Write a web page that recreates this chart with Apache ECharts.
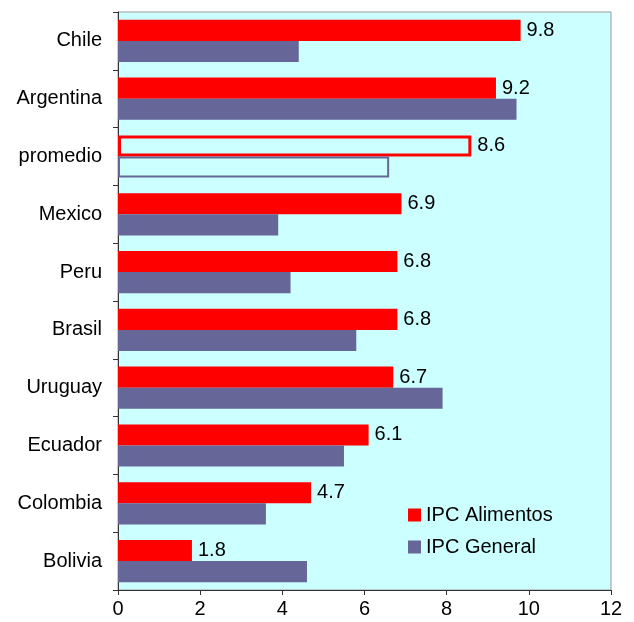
<!DOCTYPE html>
<html>
<head>
<meta charset="utf-8">
<script src="https://cdn.jsdelivr.net/npm/echarts@6/dist/echarts.min.js"></script>
<style>
html, body { margin: 0; padding: 0; background: #fff; }
#chart { width: 634px; height: 622px; }
</style>
</head>
<body>
<div id="chart"></div>
<script>
// paises, de arriba hacia abajo
var paises = ['Chile', 'Argentina', 'promedio', 'Mexico', 'Peru', 'Brasil', 'Uruguay', 'Ecuador', 'Colombia', 'Bolivia'];
var ipcAlimentos = [9.8, 9.2, 8.6, 6.9, 6.8, 6.8, 6.7, 6.1, 4.7, 1.8];
var ipcGeneral = [4.4, 9.7, 6.6, 3.9, 4.2, 5.8, 7.9, 5.5, 3.6, 4.6];
var ejeX = { min: 0, max: 12, interval: 2 };

var rojo = '#FF0000';
var azul = '#666699';

// la barra "promedio" va hueca, solo borde
function armar(valores, color, borde) {
    return valores.map(function (v, i) {
        if (paises[i] === 'promedio') {
            return {
                value: v,
                itemStyle: { color: 'rgba(0,0,0,0)', borderColor: color, borderWidth: borde }
            };
        }
        return v;
    });
}

var chart = echarts.init(document.getElementById('chart'));

var option = {
    animation: false,
    textStyle: { fontFamily: 'Liberation Sans, Arial, sans-serif' },
    grid: {
        left: 118,
        right: 23,
        top: 12,
        bottom: 32,
        show: true,
        backgroundColor: '#CCFFFF',
        borderColor: '#999999',
        borderWidth: 1
    },
    legend: {
        orient: 'vertical',
        left: 403,
        top: 500,
        itemWidth: 13,
        itemHeight: 13,
        itemGap: 12,
        icon: 'rect',
        textStyle: { fontSize: 20, color: '#000' },
        data: ['IPC Alimentos', 'IPC General']
    },
    xAxis: {
        type: 'value',
        min: ejeX.min,
        max: ejeX.max,
        interval: ejeX.interval,
        splitLine: { show: false },
        axisLine: { show: true, lineStyle: { color: '#333', width: 1 } },
        axisTick: { show: true, length: 5, lineStyle: { color: '#333' } },
        axisLabel: { fontSize: 20, color: '#000', margin: 9 }
    },
    yAxis: {
        type: 'category',
        inverse: true,
        data: paises,
        axisLine: { show: true, lineStyle: { color: '#333', width: 1 } },
        axisTick: { show: true, length: 5, lineStyle: { color: '#333' } },
        axisLabel: { fontSize: 20, color: '#000', margin: 16 }
    },
    series: [
        {
            name: 'IPC Alimentos',
            type: 'bar',
            barGap: '0%',
            barCategoryGap: '27%',
            itemStyle: { color: rojo },
            label: {
                show: true,
                position: 'right',
                distance: 6,
                fontSize: 20,
                color: '#000',
                formatter: function (p) { return p.value.toFixed(1); }
            },
            data: armar(ipcAlimentos, rojo, 3)
        },
        {
            name: 'IPC General',
            type: 'bar',
            barGap: '0%',
            barCategoryGap: '27%',
            itemStyle: { color: azul },
            data: armar(ipcGeneral, azul, 2)
        }
    ]
};

chart.setOption(option);
</script>
</body>
</html>
